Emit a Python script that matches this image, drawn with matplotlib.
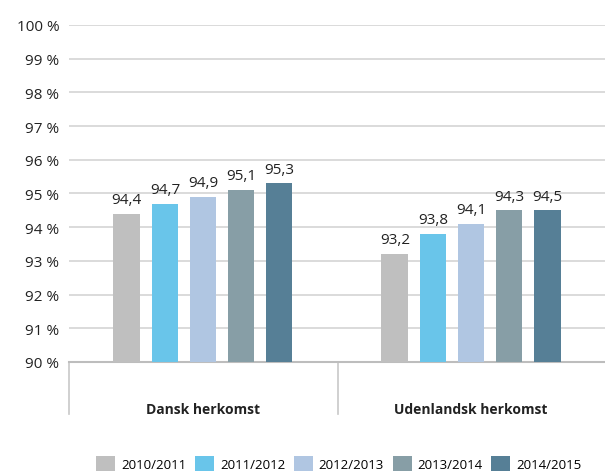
import numpy as np
import matplotlib.pyplot as plt

plt.rcParams['font.family'] = ['Open Sans', 'DejaVu Sans']

# Data
categories = ['Dansk herkomst', 'Udenlandsk herkomst']
years = ['2010/2011', '2011/2012', '2012/2013', '2013/2014', '2014/2015']
values = [
    [94.4, 94.7, 94.9, 95.1, 95.3],  # Dansk herkomst
    [93.2, 93.8, 94.1, 94.5, 94.5],  # Udenlandsk herkomst
]
value_labels = [
    ['94,4', '94,7', '94,9', '95,1', '95,3'],
    ['93,2', '93,8', '94,1', '94,3', '94,5'],
]
colors = ['#bfbfbf', '#69c5ea', '#b0c6e2', '#879ea6', '#567f96']
yticks = [90, 91, 92, 93, 94, 95, 96, 97, 98, 99, 100]

fig = plt.figure(figsize=(6.05, 4.77), dpi=100)
ax = fig.add_axes([0.114, 0.239, 0.886, 0.7065])

width = 0.1
step = 0.142
x = np.arange(len(categories))
for i, year in enumerate(years):
    offs = (i - 2) * step
    vals = [v[i] for v in values]
    ax.bar(x + offs, np.array(vals) - 90, width, bottom=90,
           color=colors[i], label=year, zorder=3)
    for j, v in enumerate(vals):
        ax.text(x[j] + offs, v + 0.2, value_labels[j][i], ha='center',
                va='bottom', fontsize=11, color='#222222')

ax.set_xlim(-0.5, 1.5)
ax.set_ylim(90, 100)
ax.set_yticks(yticks)
ax.set_yticklabels([f'{t} %' for t in yticks], fontsize=11, color='#222222')
ax.set_xticks([])
ax.grid(axis='y', color='#d4d4d4', linewidth=1.2, zorder=0)
ax.tick_params(axis='y', length=0, pad=7)
for s in ['top', 'right', 'left']:
    ax.spines[s].set_visible(False)
ax.spines['bottom'].set_color('#bdbdbd')
ax.spines['bottom'].set_linewidth(1.5)

# category separators and labels below the axis
for xs in [0.0, 0.502]:
    ax.plot([xs, xs], [0, -0.155], transform=ax.transAxes, color='#c8c8c8',
            linewidth=1.2, clip_on=False)
for j, cat in enumerate(categories):
    ax.text(0.25 + 0.5 * j, -0.14, cat, transform=ax.transAxes, ha='center',
            va='center', fontsize=10, fontweight='bold', color='#222222')

fig.legend(loc='lower center', bbox_to_anchor=(0.56, -0.015), ncol=5,
           frameon=False, fontsize=9.5, handlelength=1.45, handleheight=1.4,
           columnspacing=0.65, handletextpad=0.45)

fig.savefig('out.png', dpi=100)
